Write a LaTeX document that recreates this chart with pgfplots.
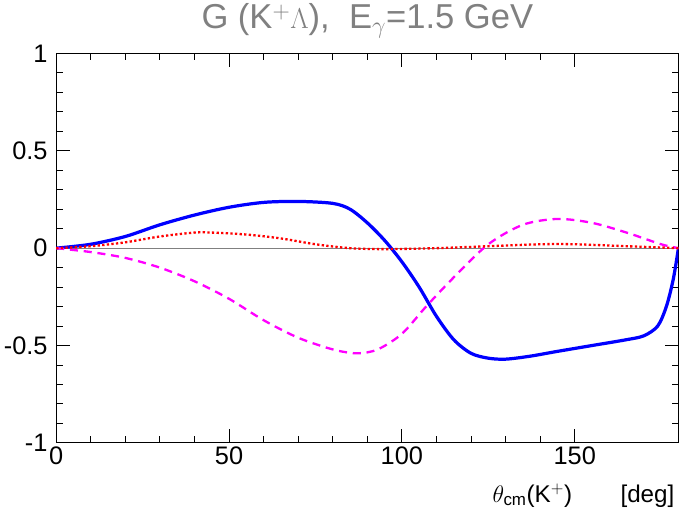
\documentclass[border=0pt]{standalone}
\usepackage{pgfplots}
\pgfplotsset{compat=1.18}
\usepackage{fontspec}
\setmainfont{Liberation Sans}
\definecolor{mag}{rgb}{1,0,1}
\begin{document}
\begin{tikzpicture}
\begin{axis}[scale only axis, width=540pt, height=338pt,
 xmin=0,xmax=180,ymin=-1,ymax=1,
 xtick={0,50,100,150}, ytick={-1,-0.5,0,0.5,1},
 minor x tick num=4, minor y tick num=4,
 tick align=inside, ticklabel style={font=\fontsize{22}{22}\selectfont},
 yticklabel style={xshift=-4pt},
 /pgf/number format/assume math mode=true,
 major tick length=12pt, minor tick length=6pt,
 tick style={black,line width=0.8pt},
 axis line style={line width=1pt},
 title={\color{gray}\fontsize{30}{30}\selectfont G (K$^+\Lambda$),\ \ E$_\gamma$=1.5 GeV},
 title style={yshift=4pt},
 xlabel={\fontsize{21}{21}\selectfont $\theta_{\rm cm}$(K$^+$)\qquad[deg]},
 xlabel style={at={(1,0)},anchor=north east,yshift=-32pt},
]
\addplot[gray,thin] coordinates {(0,0)(180,0)};
\addplot[blue,line width=2.8pt,smooth] coordinates {
(0,0)(10,0.02)(20,0.06)(30,0.12)(40,0.17)(50,0.21)(60,0.235)(70,0.24)(80,0.23)(85,0.2)(90,0.13)(95,0.04)(100,-0.07)(105,-0.2)(110,-0.35)(115,-0.47)(120,-0.54)(125,-0.565)(130,-0.57)(137,-0.555)(145,-0.53)(155,-0.5)(165,-0.47)(170,-0.45)(174,-0.40)(176.5,-0.3)(178.5,-0.16)(180,0)};
\addplot[mag,line width=2pt,dash pattern=on 7pt off 5pt,smooth] coordinates {
(0,0)(10,-0.02)(20,-0.05)(30,-0.1)(40,-0.17)(50,-0.26)(60,-0.37)(70,-0.46)(80,-0.52)(87,-0.54)(93,-0.52)(100,-0.44)(107,-0.3)(115,-0.15)(125,0.02)(135,0.12)(145,0.15)(155,0.13)(165,0.08)(175,0.02)(180,0)};
\addplot[red,line width=2pt,dash pattern=on 2pt off 2pt,smooth] coordinates {
(0,0)(10,0.01)(20,0.03)(30,0.06)(40,0.08)(45,0.08)(55,0.07)(65,0.05)(75,0.02)(85,0)(95,-0.005)(110,0)(125,0.01)(140,0.02)(150,0.02)(165,0.01)(180,0)};
\end{axis}
\end{tikzpicture}
\end{document}
